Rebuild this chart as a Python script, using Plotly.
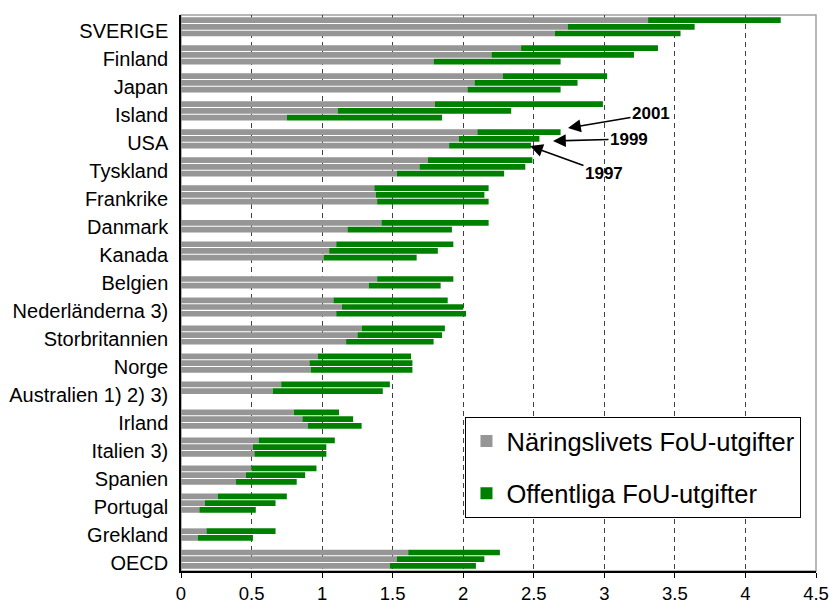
import plotly.graph_objects as go

countries = ["SVERIGE", "Finland", "Japan", "Island", "USA", "Tyskland", "Frankrike",
             "Danmark", "Kanada", "Belgien", "Nederländerna 3)", "Storbritannien", "Norge",
             "Australien 1) 2) 3)", "Irland", "Italien 3)", "Spanien", "Portugal",
             "Grekland", "OECD"]

years = ["2001", "1999", "1997"]

# Näringslivets FoU-utgifter (% av BNP)
business_2001 = [3.31, 2.41, 2.28, 1.80, 2.10, 1.75, 1.37, None, 1.10, None, 1.08, 1.28, 0.97,
                 0.71, 0.80, 0.55, 0.50, 0.26, None, 1.61]
business_1999 = [2.74, 2.20, 2.08, 1.11, 1.97, 1.69, 1.38, 1.42, 1.05, 1.39, 1.14, 1.25, 0.91,
                 0.65, 0.86, 0.51, 0.46, 0.17, 0.18, 1.53]
business_1997 = [2.65, 1.79, 2.03, 0.75, 1.90, 1.53, 1.39, 1.18, 1.01, 1.33, 1.10, 1.17, 0.92,
                 None, 0.90, 0.52, 0.39, 0.13, 0.12, 1.48]

# Offentliga FoU-utgifter (% av BNP)
public_2001 = [0.94, 0.97, 0.74, 1.19, 0.59, 0.74, 0.81, None, 0.83, None, 0.81, 0.59, 0.66,
               0.77, 0.32, 0.54, 0.46, 0.49, None, 0.65]
public_1999 = [0.90, 1.01, 0.73, 1.23, 0.57, 0.75, 0.77, 0.76, 0.77, 0.54, 0.86, 0.60, 0.73,
               0.78, 0.36, 0.52, 0.42, 0.50, 0.49, 0.62]
public_1997 = [0.89, 0.90, 0.66, 1.10, 0.58, 0.76, 0.79, 0.74, 0.66, 0.51, 0.92, 0.62, 0.72,
               None, 0.38, 0.51, 0.43, 0.40, 0.39, 0.61]

x_ticks = [0, 0.5, 1, 1.5, 2, 2.5, 3, 3.5, 4, 4.5]
x_ticktext = ["0", "0.5", "1", "1.5", "2", "2.5", "3", "3.5", "4", "4.5"]

legend_business = "Näringslivets FoU-utgifter"
legend_public = "Offentliga FoU-utgifter"

GRAY = "#969696"
GREEN = "#008000"
FONT = "Liberation Sans, Arial, sans-serif"

business = {"2001": business_2001, "1999": business_1999, "1997": business_1997}
public = {"2001": public_2001, "1999": public_1999, "1997": public_1997}

fig = go.Figure()
for i, yr in enumerate(years):
    b = business[yr]
    p = public[yr]
    fig.add_trace(go.Bar(
        y=countries, x=b, orientation="h", offsetgroup=yr,
        marker=dict(color=GRAY, line=dict(width=0)),
        name=legend_business, legendgroup="b", showlegend=(i == 0),
    ))
    fig.add_trace(go.Bar(
        y=countries, x=p, base=[v if v is not None else 0 for v in b],
        orientation="h", offsetgroup=yr,
        marker=dict(color=GREEN, line=dict(width=0)),
        name=legend_public, legendgroup="p", showlegend=(i == 0),
    ))

# plot-area border (top/right grey)
fig.add_shape(type="rect", xref="paper", yref="paper", x0=0, x1=1, y0=0, y1=1,
              line=dict(color="#a0a0a0", width=1.5), layer="below")

def px_to_paper(X, Y):
    return (X - 181) / 635.0, (571 - Y) / 556.0

ann = [("2001", (568, 128), (651, 114)),
       ("1999", (553, 141), (629, 139)),
       ("1997", (530, 146), (604, 173))]
for txt, tip, ctr in ann:
    xp, yp = px_to_paper(*tip)
    fig.add_annotation(x=xp, y=yp, xref="paper", yref="paper", text="<b>%s</b>" % txt,
                       showarrow=True, ax=ctr[0] - tip[0], ay=ctr[1] - tip[1],
                       arrowhead=2, arrowsize=1.6, arrowwidth=1.6, arrowcolor="black",
                       font=dict(family=FONT, size=17, color="black"))

fig.update_layout(
    width=831, height=606,
    margin=dict(l=181, r=15, t=15, b=35, autoexpand=False),
    paper_bgcolor="white", plot_bgcolor="white",
    barmode="group", bargap=0.28, bargroupgap=0.15,
    font=dict(family=FONT, color="black"),
    showlegend=True,
    legend=dict(x=0.448, y=0.277, xanchor="left", yanchor="top",
                bgcolor="white", bordercolor="black", borderwidth=1,
                font=dict(family=FONT, size=25.5, color="black"),
                traceorder="grouped", tracegroupgap=16),
    xaxis=dict(range=[0, 4.5], tickvals=x_ticks, ticktext=x_ticktext,
               showgrid=True, gridcolor="#404040", griddash="5px,4px", gridwidth=1,
               showline=True, linecolor="black", linewidth=1.5,
               ticks="outside", ticklen=5, tickcolor="black",
               tickfont=dict(family=FONT, size=18.5, color="black"),
               zeroline=False, fixedrange=True, automargin=False),
    yaxis=dict(type="category", range=[19.42, -0.42],
               showgrid=False, showline=True, linecolor="black", linewidth=1.5,
               ticks="", ticklabelstandoff=7, ticklabelshift=-4,
               tickfont=dict(family=FONT, size=20, color="black"),
               fixedrange=True, automargin=False),
)

fig.write_html("out.html", config={"displayModeBar": False},
               post_script="document.body.style.margin='0';document.body.style.padding='0';"
                           "document.body.style.overflow='hidden';")
